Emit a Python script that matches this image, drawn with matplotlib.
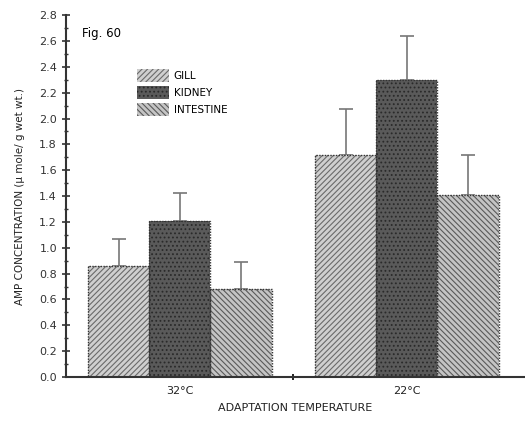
import numpy as np
import matplotlib
matplotlib.use('Agg')
import matplotlib.pyplot as plt
from matplotlib.ticker import MultipleLocator

plt.rcParams['font.family'] = ['Liberation Sans Narrow', 'DejaVu Sans']
plt.rcParams['hatch.linewidth'] = 0.8

# data
groups = ['32°C', '22°C']
tissues = ['GILL', 'KIDNEY', 'INTESTINE']
means = {
    'GILL': [0.86, 1.72],
    'KIDNEY': [1.21, 2.30],
    'INTESTINE': [0.68, 1.41],
}
errs = {
    'GILL': [0.21, 0.35],
    'KIDNEY': [0.21, 0.34],
    'INTESTINE': [0.21, 0.31],
}

# styles per tissue
faces = {'GILL': '#cfcfcf', 'KIDNEY': '#5a5a5a', 'INTESTINE': '#c4c4c4'}
hatches = {'GILL': '//////', 'KIDNEY': '....', 'INTESTINE': '\\\\\\\\\\\\'}
hcolors = {'GILL': '#6a6a6a', 'KIDNEY': '#2a2a2a', 'INTESTINE': '#5a5a5a'}

fig = plt.figure(figsize=(5.25, 4.32), dpi=100)
ax = fig.add_axes([0.1257, 0.1273, 0.8743, 0.8377])

x = np.arange(len(groups))
w = 0.269
handles = []
for i, t in enumerate(tissues):
    pos = x + (i - 1) * w
    b = ax.bar(pos, means[t], w, color=faces[t], hatch=hatches[t],
               edgecolor=hcolors[t], linewidth=0.0, zorder=2)
    # dotted outline
    ax.bar(pos, means[t], w, fill=False, edgecolor='#333333',
           linewidth=1.0, linestyle=(0, (1, 1)), zorder=3)
    ax.errorbar(pos, means[t], yerr=[np.zeros(len(groups)), errs[t]],
                fmt='none', ecolor='#777777', elinewidth=1.2,
                capsize=5, capthick=1.2, zorder=1)
    handles.append(b)

ax.set_xlim(-0.502, 1.52)
ax.set_ylim(0, 2.8)
ax.yaxis.set_major_locator(MultipleLocator(0.2))
ax.yaxis.set_minor_locator(MultipleLocator(0.1))
ax.set_yticklabels([f'{v:.1f}' for v in ax.get_yticks()])
ax.set_xticks([0.5])
ax.set_xticklabels([''])
for xi, g in zip(x, groups):
    ax.text(xi, -0.07, g, ha='center', va='top', fontsize=8,
            color='#222222', transform=ax.transData)

for s in ['top', 'right']:
    ax.spines[s].set_visible(False)
for s in ['left', 'bottom']:
    ax.spines[s].set_linewidth(1.5)
    ax.spines[s].set_color('#333333')
ax.tick_params(axis='y', which='major', direction='inout', length=6,
               width=1.2, labelsize=8, colors='#333333')
ax.tick_params(axis='y', which='minor', direction='inout', length=3,
               width=1.0, colors='#333333')
ax.tick_params(axis='x', direction='inout', length=5, width=1.2)

ax.set_xlabel('ADAPTATION TEMPERATURE', fontsize=8, labelpad=13,
              color='#222222')
ax.set_ylabel('AMP CONCENTRATION (\u03bc mole/ g wet wt.)', fontsize=7.5,
              labelpad=10, color='#222222')

ax.text(82 / 525, 1 - 33 / 432, 'Fig. 60', transform=fig.transFigure,
        fontsize=8.5, va='center', ha='left')

leg = ax.legend(handles, tissues, loc='upper left',
                bbox_to_anchor=((128 - 66) / 459, (377 - 60) / 362),
                frameon=False, fontsize=7.5, handlelength=3.0,
                handleheight=1.5, labelspacing=0.4, handletextpad=0.5)

fig.savefig('out.png', dpi=100)
